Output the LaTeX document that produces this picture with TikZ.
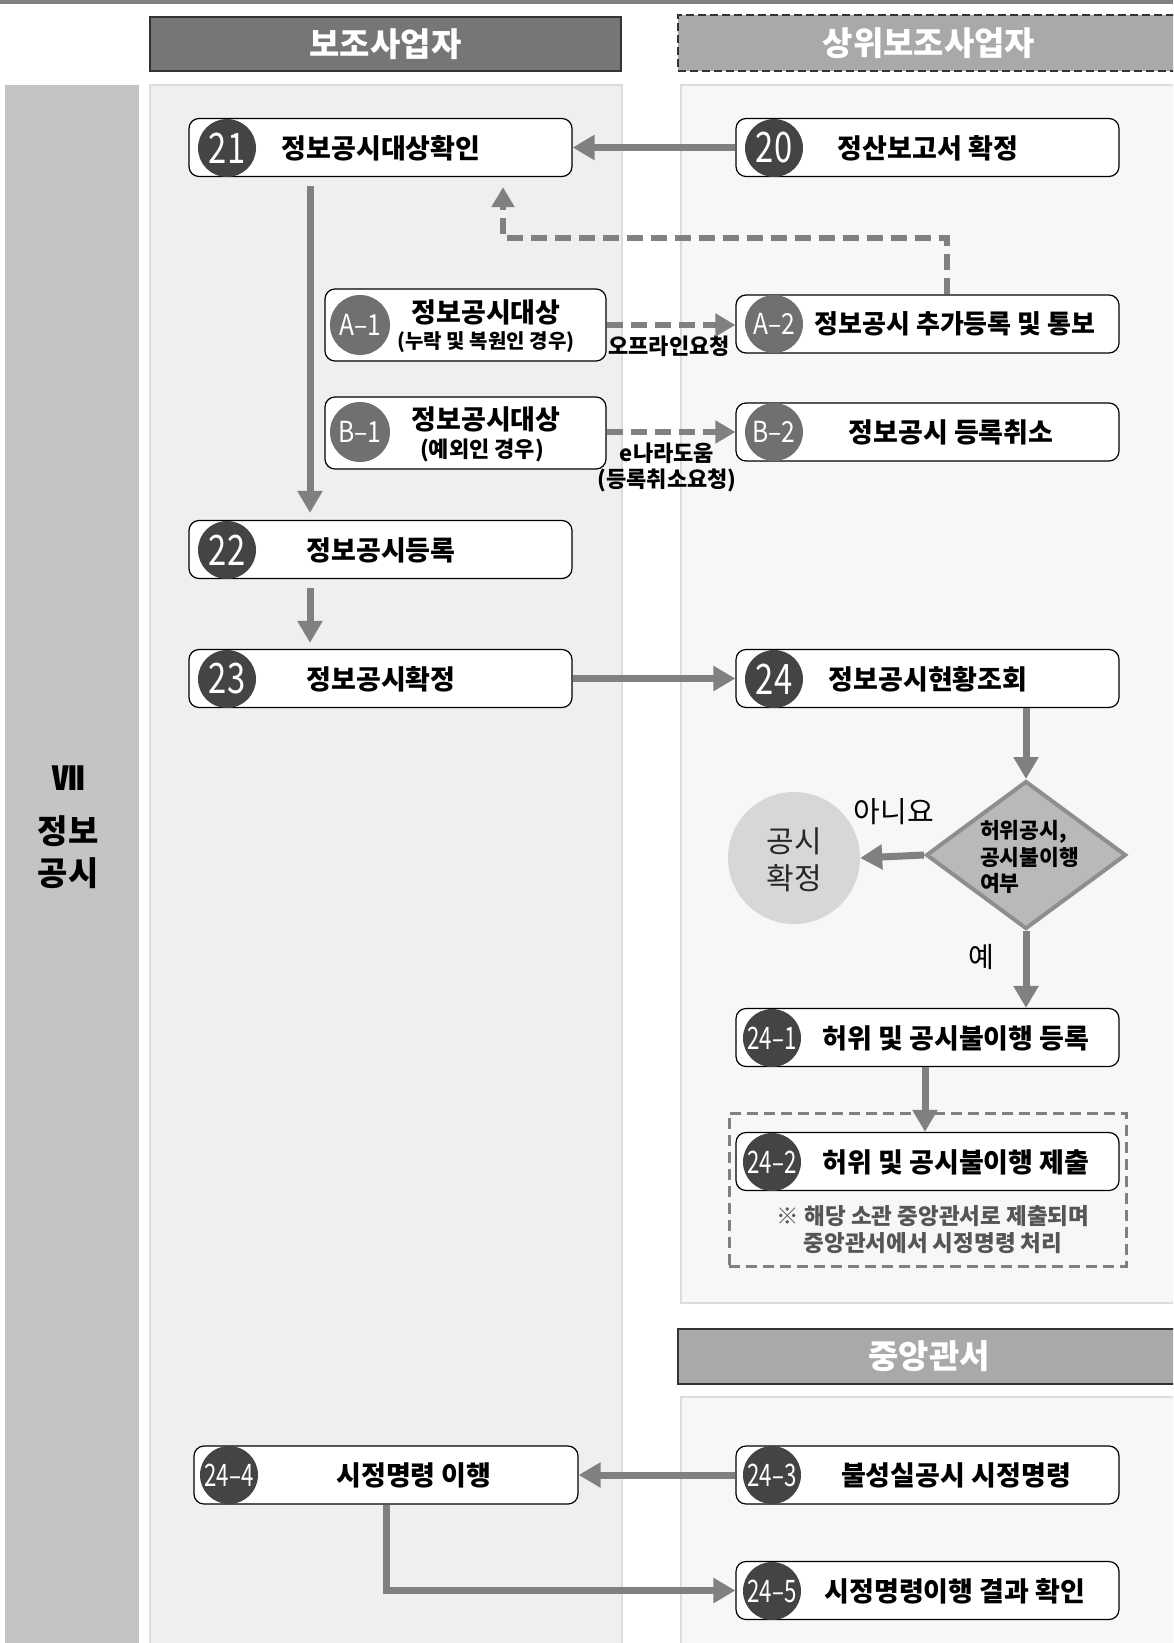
\documentclass[tikz,border=0pt]{standalone}
\usepackage{fontspec}
\setmainfont{Noto Sans CJK KR}
\usetikzlibrary{arrows.meta,shapes.geometric}
\definecolor{arrowgray}{HTML}{808080}
\definecolor{numgray}{HTML}{444444}
\definecolor{subgray}{HTML}{707070}
\definecolor{hdrdark}{HTML}{767676}
\definecolor{hdrlight}{HTML}{A9A9A9}
\definecolor{bandgray}{HTML}{C4C4C4}
\definecolor{laneA}{HTML}{EFEFEF}
\definecolor{laneB}{HTML}{F7F7F7}
\definecolor{laneedge}{HTML}{DCDCDC}
\definecolor{diafill}{HTML}{B9B9B9}
\definecolor{diaedge}{HTML}{8E8E8E}
\definecolor{gcfill}{HTML}{D7D7D7}
\definecolor{notegray}{HTML}{555555}
\newcommand\numlab[2]{\scalebox{#1}[1]{#2}}
\begin{document}
\begin{tikzpicture}[x=1pt,y=-1pt,
  box/.style={draw=black, line width=1.2pt, rounded corners=10pt, fill=white, minimum width=383pt, minimum height=58pt, inner sep=0pt},
  sbox/.style={box, minimum width=281pt, minimum height=72pt},
  numc/.style={circle, fill=numgray, text=white, minimum size=58pt, inner sep=0pt, font=\fontsize{42}{42}\selectfont},
  numcs/.style={numc, font=\fontsize{31}{31}\selectfont},
  subc/.style={circle, fill=subgray, text=white, minimum size=60pt, inner sep=0pt, font=\fontsize{29}{29}\selectfont},
  title/.style={inner sep=0pt, font=\bfseries\fontsize{27}{30}\selectfont},
  hdr/.style={draw=black!80, line width=2pt, text=white, inner sep=0pt, font=\bfseries\fontsize{33}{33}\selectfont},
  flow/.style={draw=arrowgray, line width=7pt, -{Triangle[length=22pt,width=24pt]}},
  dflow/.style={draw=arrowgray, line width=6pt, dash pattern=on 16pt off 8pt, -{Triangle[length=20pt,width=22pt]}},
  elab/.style={inner sep=0pt, font=\bfseries\fontsize{22}{24}\selectfont}
]
\useasboundingbox (0,0) rectangle (1173,1643);
\clip (0,0) rectangle (1173,1643);
\fill[white] (0,0) rectangle (1173,1643);
% top rule
\draw[line width=4pt, draw=black!50] (0,2) -- (1173,2);
% backgrounds
\fill[bandgray] (5,85) rectangle (139,1660);
\draw[laneedge, fill=laneA, line width=2pt] (150,85) rectangle (622,1660);
\draw[laneedge, fill=laneB, line width=2pt] (681,85) rectangle (1190,1303);
\draw[laneedge, fill=laneB, line width=2pt] (681,1397) rectangle (1190,1660);
% headers
\node[hdr, fill=hdrdark, minimum width=471pt, minimum height=54pt] (h1) at (385.5,44) {보조사업자};
\node[hdr, fill=hdrlight, dashed, dash pattern=on 8pt off 4pt, minimum width=502pt, minimum height=56pt] (h2) at (929,43) {상위보조사업자};
\node[hdr, fill=hdrlight, minimum width=502pt, minimum height=55pt] (h3) at (929,1356.5) {중앙관서};
% side label
\node[inner sep=0pt, font=\bfseries\fontsize{33}{33}\selectfont] (vii) at (68,778) {Ⅶ};
\node[inner sep=0pt, align=center, font=\bfseries\fontsize{33}{42}\selectfont] (sec) at (68,852) {정보\\공시};
% boxes
\node[box] (b21) at (380.5,147.5) {};
\node[box] (b20) at (927.5,147.5) {};
\node[sbox] (ba1) at (465.5,325) {};
\node[box] (ba2) at (927.5,324) {};
\node[sbox] (bb1) at (465.5,433) {};
\node[box] (bb2) at (927.5,432) {};
\node[box] (b22) at (380.5,549.5) {};
\node[box] (b23) at (380.5,678.5) {};
\node[box] (b24) at (927.5,678.5) {};
\node[box] (b241) at (927.5,1037.5) {};
\node[draw=arrowgray, line width=3pt, dash pattern=on 11pt off 6pt, minimum width=397pt, minimum height=153pt, inner sep=0pt] (nbox) at (927.5,1189.5) {};
\node[box] (b242) at (927.5,1161.5) {};
\node[box, minimum width=384pt] (b244) at (386,1475) {};
\node[box] (b243) at (927.5,1475) {};
\node[box] (b245) at (927.5,1590.5) {};
% circles
\node[numc] (c21) at (227,148) {\numlab{0.78}{21}};
\node[numc] (c20) at (774,148) {\numlab{0.78}{20}};
\node[subc] (ca1) at (360,325) {\numlab{0.85}{A–1}};
\node[subc, minimum size=58pt] (ca2) at (774,324) {\numlab{0.85}{A–2}};
\node[subc] (cb1) at (360,432) {\numlab{0.85}{B–1}};
\node[subc, minimum size=58pt] (cb2) at (774,432) {\numlab{0.85}{B–2}};
\node[numc] (c22) at (227,550) {\numlab{0.78}{22}};
\node[numc] (c23) at (227,679) {\numlab{0.78}{23}};
\node[numc] (c24) at (774,679) {\numlab{0.78}{24}};
\node[numcs] (c241) at (772,1038) {\numlab{0.72}{24–1}};
\node[numcs] (c242) at (772,1162) {\numlab{0.72}{24–2}};
\node[numcs] (c244) at (229,1475) {\numlab{0.72}{24–4}};
\node[numcs] (c243) at (772,1475) {\numlab{0.72}{24–3}};
\node[numcs] (c245) at (772,1591) {\numlab{0.72}{24–5}};
% titles
\node[title] (t21) at (381,148) {정보공시대상확인};
\node[title] (t20) at (928,148) {정산보고서 확정};
\node[title, font=\bfseries\fontsize{27}{30}\selectfont] (ta1) at (486,312) {정보공시대상};
\node[title, font=\bfseries\fontsize{20}{22}\selectfont] (ta1s) at (486,342) {(누락 및 복원인 경우)};
\node[title, font=\bfseries\fontsize{27}{30}\selectfont] (tb1) at (486,419) {정보공시대상};
\node[title, font=\bfseries\fontsize{22}{24}\selectfont] (tb1s) at (482,450) {(예외인 경우)};
\node[title, font=\bfseries\fontsize{26}{30}\selectfont] (ta2) at (955,324) {정보공시 추가등록 및 통보};
\node[title] (tb2) at (951,432) {정보공시 등록취소};
\node[title] (t22) at (381,550) {정보공시등록};
\node[title] (t23) at (381,679) {정보공시확정};
\node[title] (t24) at (928,679) {정보공시현황조회};
\node[title] (t241) at (956,1038) {허위 및 공시불이행 등록};
\node[title] (t242) at (956,1162) {허위 및 공시불이행 제출};
\node[inner sep=0pt, align=center, text=notegray, font=\bfseries\fontsize{22.5}{27.5}\selectfont] (note) at (933,1229.5) {※ 해당 소관 중앙관서로 제출되며\\중앙관서에서 시정명령 처리};
\node[title] (t244) at (414,1475) {시정명령 이행};
\node[title] (t243) at (956,1475) {불성실공시 시정명령};
\node[title] (t245) at (955,1591) {시정명령이행 결과 확인};
% decision
\node[diamond, draw=diaedge, fill=diafill, line width=4pt, minimum width=200pt, minimum height=148pt, inner sep=0pt] (dia) at (1026,855) {};
\node[inner sep=0pt, anchor=west, align=left, font=\bfseries\fontsize{21.5}{26.5}\selectfont] (dtx) at (980,857) {허위공시,\\공시불이행\\여부};
\node[circle, fill=gcfill, minimum size=132pt, inner sep=0pt] (gc) at (794,858) {};
\node[inner sep=0pt, align=center, text=black!85, font=\fontsize{30}{37}\selectfont] (gct) at (794,860) {공시\\확정};
\node[inner sep=0pt, font=\fontsize{29}{30}\selectfont] (no) at (894,812) {아니요};
\node[inner sep=0pt, font=\fontsize{28}{30}\selectfont] (yes) at (981,957) {예};
% connector labels
\node[elab] (l1) at (669,346) {오프라인요청};
\node[elab] (l2) at (667,453) {e나라도움};
\node[elab] (l3) at (667,480) {(등록취소요청)};
% connectors
\draw[flow] (b20.west) -- (b21.east);
\draw[flow] ([xshift=-70.5pt,yshift=-9pt]b21.south) -- ([xshift=-70.5pt,yshift=7pt]b22.north);
\draw[flow] ([xshift=-70.5pt,yshift=-9pt]b22.south) -- ([xshift=-70.5pt,yshift=6pt]b23.north);
\draw[flow] (b23.east) -- (b24.west);
\draw[flow] (dia.north |- b24.south) -- (dia.north);
\draw[flow] (dia.west) -- (gc.east);
\draw[flow] (dia.south) -- (dia.south |- b241.north);
\draw[flow] ([xshift=-2.5pt]b241.south) -- ([xshift=-2.5pt]b242.north);
\draw[flow] (b243.west) -- (b244.east);
\draw[flow] (b244.south) |- (b245.west);
\draw[dflow] (ba1.east) -- (ba1.east -| ba2.west);
\draw[dflow] ([yshift=1pt]bb1.east) -- ([yshift=1pt]bb1.east -| bb2.west);
\draw[dflow] ([xshift=19.5pt]ba2.north) -- ++(0,-56) -| ([xshift=122.5pt,yshift=-10pt]b21.south);
\end{tikzpicture}
\end{document}
